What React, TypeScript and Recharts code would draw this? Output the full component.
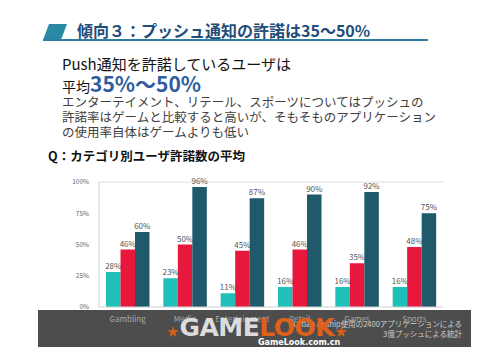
import React from "react";
import {
  BarChart,
  Bar,
  XAxis,
  YAxis,
  LabelList,
  ReferenceLine,
} from "recharts";

const categories = ["Gambling", "Media", "Entertainment", "Retail", "Games", "Sports"];
const lowValues = [28, 23, 11, 16, 16, 16];
const midValues = [46, 50, 45, 46, 35, 48];
const highValues = [60, 96, 87, 90, 92, 75];
const yTicks = [0, 25, 50, 75, 100];

const data = categories.map((name, i) => ({
  name,
  low: lowValues[i],
  mid: midValues[i],
  high: highValues[i],
}));

const FONT = '"Noto Sans CJK JP", "Noto Sans", sans-serif';

const line = (top: number, left: number, size: number, extra: React.CSSProperties = {}) => ({
  position: "absolute" as const,
  top,
  left,
  fontSize: size,
  lineHeight: 1,
  whiteSpace: "nowrap" as const,
  ...extra,
});

const pct = (v: number) => `${v}%`;

export default function App() {
  return (
    <div
      style={{
        position: "absolute",
        left: 0,
        top: 0,
        width: 489,
        height: 357,
        background: "#fff",
        overflow: "hidden",
        fontFamily: FONT,
      }}
    >
      {/* header */}
      <div
        style={{
          position: "absolute",
          left: 43,
          top: 24,
          width: 24,
          height: 16,
          background: "#2a8aa6",
          clipPath: "polygon(25% 0, 100% 0, 75% 100%, 0 100%)",
        }}
      />
      <div style={{ position: "absolute", left: 43, top: 39, width: 385, height: 1.5, background: "#2f7fa0" }} />
      <div style={line(22, 77, 16, { fontWeight: 700, color: "#1f4e79" })}>
        傾向３：プッシュ通知の許諾は35～50%
      </div>

      <div style={line(56, 62, 15, { color: "#111" })}>Push通知を許諾しているユーザは</div>
      <div style={line(73, 62, 14, { color: "#111" })}>
        平均
        <span style={{ fontSize: 21, fontWeight: 700, color: "#2e5c9e" }}>35%～50%</span>
      </div>
      <div style={line(96, 62, 12.5, { color: "#404040" })}>
        エンターテイメント、リテール、スポーツについてはプッシュの
      </div>
      <div style={line(111, 62, 12.5, { color: "#404040" })}>
        許諾率はゲームと比較すると高いが、そもそものアプリケーション
      </div>
      <div style={line(126, 62, 12.5, { color: "#404040" })}>の使用率自体はゲームよりも低い</div>
      <div style={line(150, 48, 12.5, { fontWeight: 700, color: "#111" })}>
        Q：カテゴリ別ユーザ許諾数の平均
      </div>

      {/* watermark band */}
      <div style={{ position: "absolute", left: 38, top: 310, width: 433, height: 37, background: "#4d4d4d" }} />
      <div style={{ ...line(320, 0, 7.5, { color: "#cfcfcf", textAlign: "right" }), left: undefined, right: 27 }}>
        Urban Airship使用の2400アプリケーションによる
      </div>
      <div style={{ ...line(330, 0, 7.5, { color: "#cfcfcf", textAlign: "right" }), left: undefined, right: 27 }}>
        3億プッシュによる統計
      </div>

      <div style={{ position: "absolute", left: 60, top: 170, zIndex: 2 }}>
        <BarChart
          width={400}
          height={160}
          data={data}
          margin={{ top: 12, right: 17, bottom: 3, left: 0 }}
          barGap={0}
          barSize={14.5}
        >
          <XAxis
            dataKey="name"
            height={20}
            tickLine={false}
            axisLine={{ stroke: "#d0d0d0" }}
            tick={{ fontSize: 8, fill: "#a8a8a8", fontFamily: FONT }}
            tickMargin={3}
            interval={0}
          />
          <YAxis
            width={39}
            domain={[0, 100]}
            ticks={yTicks}
            tickFormatter={pct}
            tickLine={false}
            axisLine={{ stroke: "#d0d0d0" }}
            tick={{ fontSize: 6.5, fill: "#666", fontFamily: FONT }}
            tickMargin={4}
          />
          <ReferenceLine y={100} stroke="#e0e0e0" />
          <Bar dataKey="low" fill="#1fc0b9" isAnimationActive={false}>
            <LabelList dataKey="low" position="top" formatter={pct} fontSize={8} fill="#555" offset={3} />
          </Bar>
          <Bar dataKey="mid" fill="#e8173c" isAnimationActive={false}>
            <LabelList dataKey="mid" position="top" formatter={pct} fontSize={8} fill="#555" offset={3} />
          </Bar>
          <Bar dataKey="high" fill="#1e5a6c" isAnimationActive={false}>
            <LabelList dataKey="high" position="top" formatter={pct} fontSize={8} fill="#555" offset={3} />
          </Bar>
        </BarChart>
      </div>

      {/* GAMELOOK watermark */}
      <div style={{ position: "absolute", left: 166, top: 313, zIndex: 3, fontFamily: '"DejaVu Sans", sans-serif' }}>
        <span style={{ fontSize: 15, color: "#d2601a", verticalAlign: "middle" }}>★</span>
        <span style={{ fontSize: 25, fontWeight: 700, color: "#dcdcdc", letterSpacing: -0.5 }}>GAME</span>
        <span style={{ fontSize: 25, fontWeight: 700, color: "#e0601a", letterSpacing: -0.5 }}>LOOK</span>
        <span style={{ fontSize: 15, color: "#d2601a", verticalAlign: "middle" }}>★</span>
      </div>
      <div style={line(339, 258, 8, { zIndex: 3, color: "#fff", fontWeight: 700, fontFamily: '"DejaVu Sans", sans-serif' })}>
        GameLook.com.cn
      </div>
    </div>
  );
}
